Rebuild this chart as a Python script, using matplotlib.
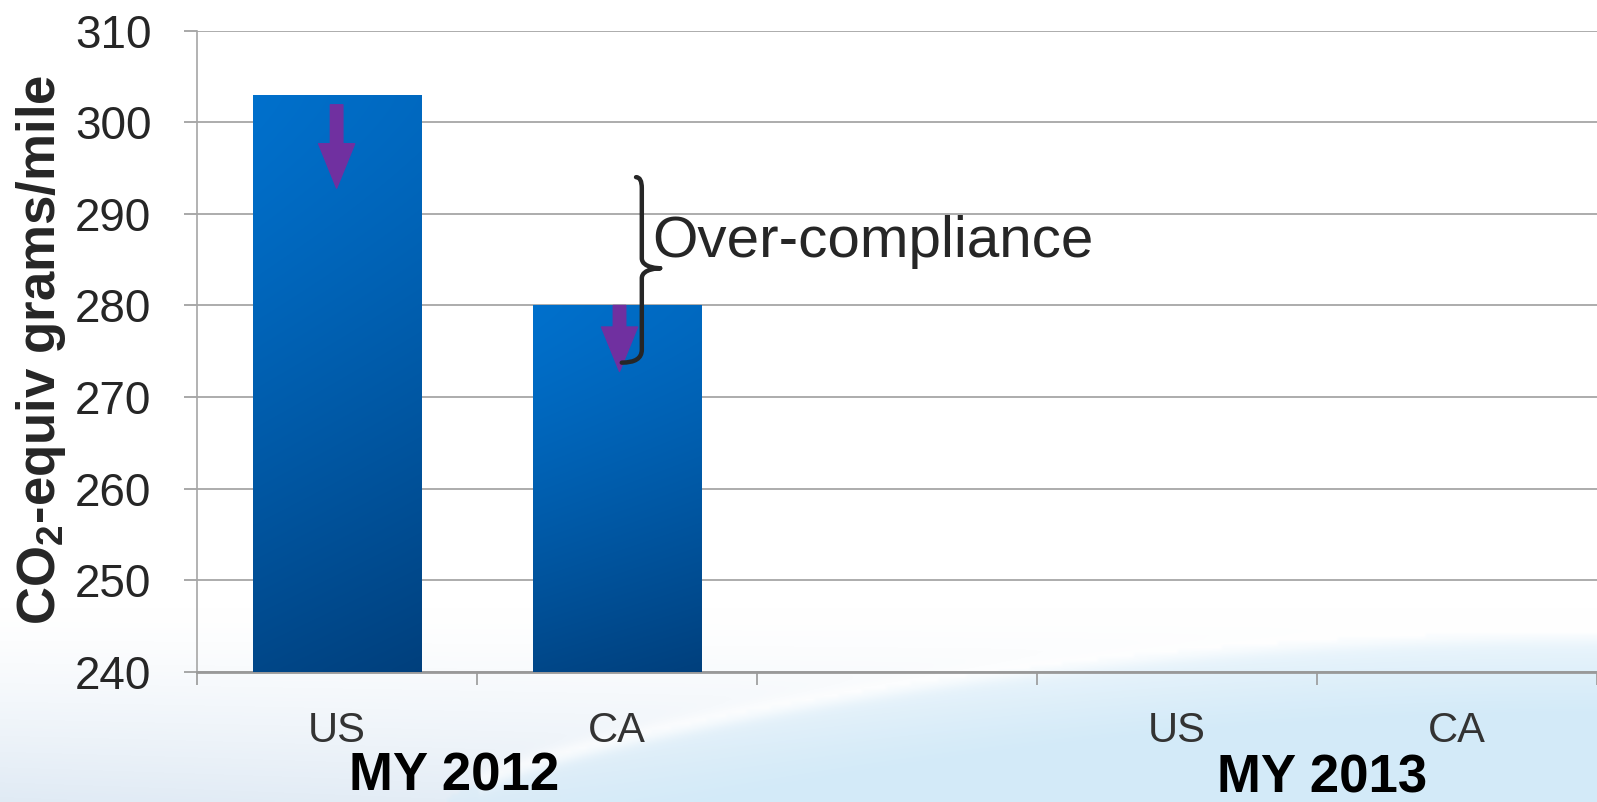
import matplotlib
matplotlib.use('Agg')
import matplotlib.pyplot as plt
import numpy as np
from matplotlib.path import Path
from matplotlib.patches import PathPatch

plt.rcParams['font.family'] = ['Liberation Sans', 'DejaVu Sans']
plt.rcParams['mathtext.fontset'] = 'custom'
plt.rcParams['mathtext.rm'] = 'Liberation Sans:bold'
plt.rcParams['mathtext.bf'] = 'Liberation Sans:bold'

# data
categories = ['US', 'CA', '', 'US', 'CA']
values = [303, 280, None, None, None]
groups = ['MY 2012', 'MY 2013']
group_x = [0.42, 3.52]
y_min, y_max = 240, 310

# arrows showing the cut (start, tip) per bar
arrow_start = [301.9, 280.0]
arrow_tip = [292.8, 272.8]

fig = plt.figure(figsize=(15.97, 8.02), dpi=100)

# slide background: white with a pale blue swoosh at the bottom
bg_ax = fig.add_axes([0, 0, 1, 1], zorder=-10)
h, w = 200, 400
yy, xx = np.mgrid[0:h, 0:w]
fx = xx / (w - 1)
fy = yy / (h - 1)
img = np.ones((h, w, 3))
tint = np.clip((fy - 0.76) / 0.24, 0, 1) ** 1.3 * (1 - 0.4 * fx)
pale = np.array([0.88, 0.92, 0.96])
img = img * (1 - tint[..., None]) + pale * tint[..., None]
curve = 1.0 - 0.21 * np.sin(np.clip((fx - 0.28) / 0.72, 0, 1) * np.pi / 2) ** 0.7
inside = fy > curve
depth = np.clip((fy - curve) / 0.10, 0, 1)
blue = np.array([0.83, 0.92, 0.975])
swoosh = np.where(inside, 0.4 + 0.6 * depth, 0)
img = img * (1 - swoosh[..., None]) + blue * swoosh[..., None]
edge = np.exp(-((fy - curve) / 0.012) ** 2) * (fx > 0.3)
img = img * (1 - 0.7 * edge[..., None]) + 0.7 * edge[..., None]
bg_ax.imshow(img, aspect='auto', extent=[0, 1, 0, 1], interpolation='bilinear')
bg_ax.axis('off')

ax = fig.add_axes([0.1231, 0.1621, 0.8769, 0.7998])
ax.set_facecolor('none')

x = np.arange(len(categories))
bar_x = [i for i, v in enumerate(values) if v is not None]
bar_v = [v for v in values if v is not None]
bars = ax.bar(bar_x, [v - y_min for v in bar_v], bottom=y_min, width=0.6,
              color='#0062B0', zorder=3)

# gradient fill for the bars
gy, gx = np.mgrid[0:100, 0:50]
t = np.clip(0.85 * (gy / 99) ** 1.3 + 0.15 * gx / 49, 0, 1)
top = np.array([0.0, 0.44, 0.80])
bot = np.array([0.0, 0.25, 0.49])
grad = top * (1 - t[..., None]) + bot * t[..., None]
for b in bars:
    x0, y0 = b.get_x(), b.get_y()
    im = ax.imshow(grad, extent=[x0, x0 + b.get_width(), y0, y0 + b.get_height()],
                   aspect='auto', zorder=4, interpolation='bilinear')
    im.set_clip_path(b)

for xi, s, e in zip(bar_x, arrow_start, arrow_tip):
    ax.annotate('', xy=(xi + 0.01 * (xi > 0), e), xytext=(xi + 0.01 * (xi > 0), s),
                arrowprops=dict(arrowstyle='simple,head_length=3.2,head_width=2.6,tail_width=0.9',
                                color='#7030A0', mutation_scale=10, shrinkA=0, shrinkB=0),
                zorder=6)

# brace marking the over-compliance
bx, btop, bmid, bbot = 1.0896, 294.0, 284.06, 273.76
verts = [(1.069, btop), (bx, btop), (bx, btop - 1.2),
         (bx, bmid + 1.1),
         (bx, bmid), (1.155, bmid), (1.155, bmid),
         (1.155, bmid), (bx, bmid), (bx, bmid - 1.1),
         (bx, bbot + 1.4),
         (bx, bbot), (1.018, bbot)]
codes = [Path.MOVETO, Path.CURVE3, Path.CURVE3,
         Path.LINETO,
         Path.CURVE4, Path.CURVE4, Path.CURVE4,
         Path.CURVE4, Path.CURVE4, Path.CURVE4,
         Path.LINETO,
         Path.CURVE3, Path.CURVE3]
ax.add_patch(PathPatch(Path(verts, codes), fill=False, edgecolor='#262626',
                       lw=3.2, zorder=7, capstyle='round', joinstyle='round'))
ax.text(1.126, 286.9, 'Over-compliance', fontsize=42, color='#262626',
        ha='left', va='center', zorder=7)

ax.set_xlim(-0.5, len(categories) - 0.5)
ax.set_ylim(y_min, y_max)
ax.set_yticks(np.arange(y_min, y_max + 1, 10))
ax.set_xticks(x)
ax.set_xticklabels(categories, fontsize=30, color='#333333')
ax.set_xticks(np.arange(-0.5, len(categories), 1), minor=True)
ax.tick_params(axis='x', which='major', length=0, pad=28)
ax.tick_params(axis='x', which='minor', length=9, width=1.2, color='#999999')
ax.tick_params(axis='y', length=9.5, width=1.2, color='#999999', pad=23,
               labelsize=33, labelcolor='#262626')
ax.yaxis.grid(True, color='#a6a6a6', lw=1.3, zorder=1)
ax.set_axisbelow(True)
for side in ['top', 'right']:
    ax.spines[side].set_visible(False)
ax.spines['left'].set_color('#a6a6a6')
ax.spines['left'].set_linewidth(1.2)
ax.spines['bottom'].set_color('#999999')
ax.spines['bottom'].set_linewidth(2)

for gx_, gl, gy_ in zip(group_x, groups, [-0.163, -0.166]):
    ax.text(gx_, gy_, gl, transform=ax.get_xaxis_transform(), fontsize=38,
            fontweight='bold', ha='center', va='center', color='#000000')

fig.text(0.0255, 0.5636, r'CO$_{\mathbf{2}}$-equiv grams/mile', rotation=90,
         fontsize=38, fontweight='bold', ha='center', va='center', color='#262626')

fig.savefig('out.png', dpi=100)
